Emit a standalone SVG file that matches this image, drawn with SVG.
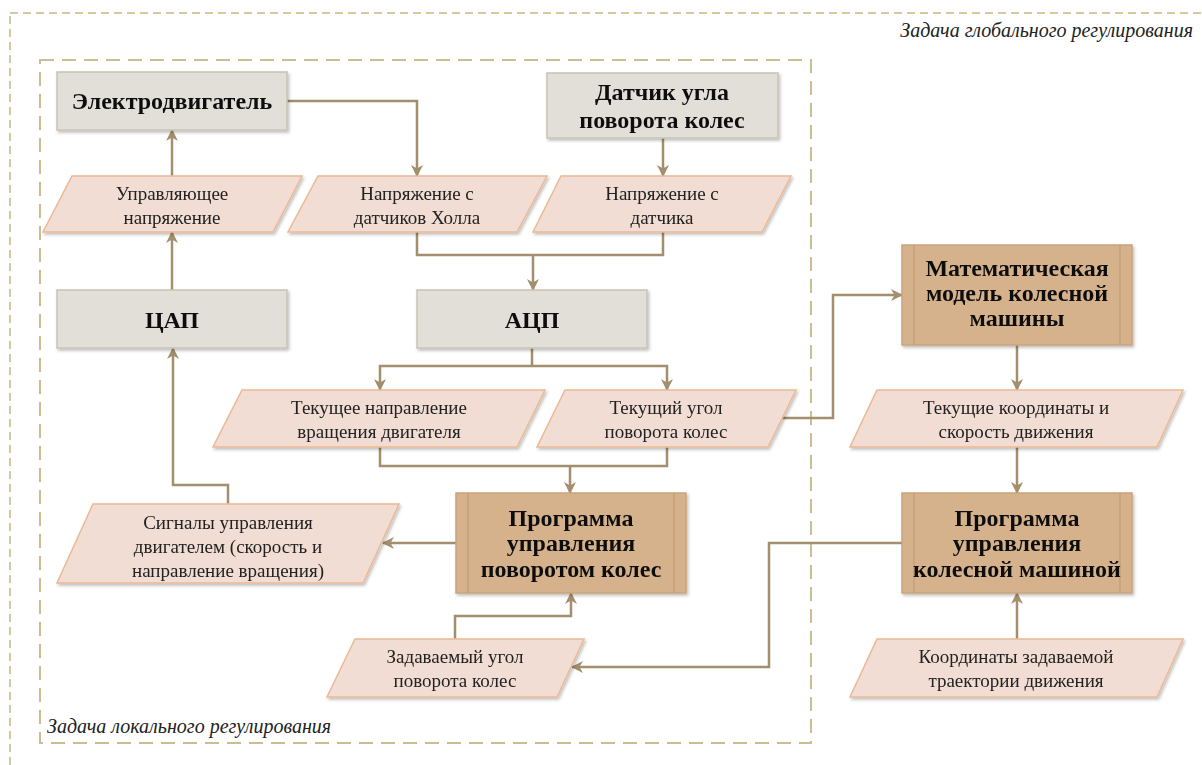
<svg xmlns="http://www.w3.org/2000/svg" width="1202" height="765" viewBox="0 0 1202 765">
<style>
.gray{fill:#e2dfd9;stroke:#c9c2b4;stroke-width:1.5}
.brown{fill:#d5b28c;stroke:#c9a47c;stroke-width:1.5}
.inl{stroke:#c49c72;stroke-width:1.2;fill:none}
.para{fill:#f2ddd4;stroke:#ebb994;stroke-width:1.5}
.bt{font-family:"Liberation Serif","Times New Roman","DejaVu Serif",serif;font-weight:bold;font-size:24px;fill:#111;text-anchor:middle}
.pt{font-family:"Liberation Serif","Times New Roman","DejaVu Serif",serif;font-size:19px;fill:#222;text-anchor:middle}
.it{font-family:"Liberation Serif","Times New Roman","DejaVu Serif",serif;font-style:italic;font-size:20px;fill:#222}
.c{fill:none;stroke:#a38f6d;stroke-width:2.5}
.ca{fill:none;stroke:#a38f6d;stroke-width:2.5;marker-end:url(#ah)}
</style>
<defs>
<marker id="ah" markerUnits="userSpaceOnUse" markerWidth="12" markerHeight="12" refX="11" refY="6" orient="auto" viewBox="0 0 12 12">
<path d="M0,0 L12,6 L0,12 L3.5,6 z" fill="#a38f6d"/>
</marker>
<filter id="sh" x="-5%" y="-5%" width="115%" height="120%">
<feDropShadow dx="1.5" dy="2" stdDeviation="1.5" flood-color="#000" flood-opacity="0.25"/>
</filter>
</defs>
<rect width="1202" height="765" fill="#fff"/>
<g id="frames">
<rect x="10" y="13" width="1205" height="770" fill="none" stroke="#d6c8a0" stroke-width="2" stroke-dasharray="8 5"/>
<rect x="40" y="60" width="771" height="683" fill="none" stroke="#cdbd92" stroke-width="2" stroke-dasharray="14 8"/>
<text class="it" x="1193" y="37" text-anchor="end">Задача глобального регулирования</text>
<text class="it" x="47" y="733">Задача локального регулирования</text>
</g>
<g id="connectors">
<path class="ca" d="M287,101 H417 V176"/>
<path class="ca" d="M663,138 V176"/>
<path class="c" d="M417,232 V255 H663 V232"/>
<path class="ca" d="M533,255 V290"/>
<path class="ca" d="M172,176 V130"/>
<path class="ca" d="M172,290 V232"/>
<path class="c" d="M532,348 V366"/>
<path class="ca" d="M532,366 H380 V390"/>
<path class="ca" d="M532,366 H667 V390"/>
<path class="c" d="M380,447 V466 H667 V447"/>
<path class="ca" d="M570,466 V493"/>
<path class="ca" d="M782,418 H833 V295 H902"/>
<path class="ca" d="M1017,345 V390"/>
<path class="ca" d="M1017,447 V493"/>
<path class="ca" d="M1017,639 V593"/>
<path class="ca" d="M902,543 H769 V667 H572"/>
<path class="ca" d="M455,639 V616 H571 V593"/>
<path class="ca" d="M456,543 H383"/>
<path class="ca" d="M228,504 V485 H173 V348"/>
</g>
<g id="n-motor" filter="url(#sh)">
<rect class="gray" x="57" y="72" width="230" height="58"/>
<text class="bt" x="172" y="109">Электродвигатель</text>
</g>
<g id="n-sensor" filter="url(#sh)">
<rect class="gray" x="547" y="73" width="231" height="65"/>
<text class="bt" x="662" y="100">Датчик угла</text>
<text class="bt" x="662" y="128">поворота колес</text>
</g>
<g id="n-dac" filter="url(#sh)">
<rect class="gray" x="57" y="290" width="230" height="58"/>
<text class="bt" x="172" y="328">ЦАП</text>
</g>
<g id="n-adc" filter="url(#sh)">
<rect class="gray" x="417" y="290" width="230" height="58"/>
<text class="bt" x="532" y="328">АЦП</text>
</g>
<g id="n-model" filter="url(#sh)">
<rect class="brown" x="902" y="245" width="230" height="100"/>
<line class="inl" x1="914" y1="245" x2="914" y2="345"/>
<line class="inl" x1="1120" y1="245" x2="1120" y2="345"/>
<text class="bt" x="1017" y="276">Математическая</text>
<text class="bt" x="1017" y="301">модель колесной</text>
<text class="bt" x="1017" y="326">машины</text>
</g>
<g id="n-steer" filter="url(#sh)">
<rect class="brown" x="456" y="493" width="230" height="100"/>
<line class="inl" x1="468" y1="493" x2="468" y2="593"/>
<line class="inl" x1="674" y1="493" x2="674" y2="593"/>
<text class="bt" x="571" y="526">Программа</text>
<text class="bt" x="571" y="551">управления</text>
<text class="bt" x="571" y="577">поворотом колес</text>
</g>
<g id="n-vehicle" filter="url(#sh)">
<rect class="brown" x="902" y="493" width="230" height="100"/>
<line class="inl" x1="914" y1="493" x2="914" y2="593"/>
<line class="inl" x1="1120" y1="493" x2="1120" y2="593"/>
<text class="bt" x="1017" y="526">Программа</text>
<text class="bt" x="1017" y="551">управления</text>
<text class="bt" x="1017" y="577">колесной машиной</text>
</g>
<g id="p-ctrlvolt" filter="url(#sh)">
<polygon class="para" points="72,176 302,176 273,232 43,232"/>
<text class="pt" x="172" y="200">Управляющее</text>
<text class="pt" x="172" y="224">напряжение</text>
</g>
<g id="p-hall" filter="url(#sh)">
<polygon class="para" points="318,176 547,176 517,232 288,232"/>
<text class="pt" x="417" y="200">Напряжение с</text>
<text class="pt" x="417" y="224">датчиков Холла</text>
</g>
<g id="p-sensvolt" filter="url(#sh)">
<polygon class="para" points="561,176 791,176 762,232 533,232"/>
<text class="pt" x="662" y="200">Напряжение с</text>
<text class="pt" x="662" y="224">датчика</text>
</g>
<g id="p-dir" filter="url(#sh)">
<polygon class="para" points="242,390 545,390 517,447 213,447"/>
<text class="pt" x="379" y="414">Текущее направление</text>
<text class="pt" x="379" y="438">вращения двигателя</text>
</g>
<g id="p-angle" filter="url(#sh)">
<polygon class="para" points="565,390 796,390 768,447 537,447"/>
<text class="pt" x="666" y="414">Текущий угол</text>
<text class="pt" x="666" y="438">поворота колес</text>
</g>
<g id="p-signals" filter="url(#sh)">
<polygon class="para" points="93,504 399,504 363,583 57,583"/>
<text class="pt" x="228" y="529">Сигналы управления</text>
<text class="pt" x="228" y="553">двигателем (скорость и</text>
<text class="pt" x="228" y="577">направление вращения)</text>
</g>
<g id="p-setangle" filter="url(#sh)">
<polygon class="para" points="355,639 584,639 557,697 327,697"/>
<text class="pt" x="455" y="663">Задаваемый угол</text>
<text class="pt" x="455" y="687">поворота колес</text>
</g>
<g id="p-coords" filter="url(#sh)">
<polygon class="para" points="877,390 1183,390 1157,447 850,447"/>
<text class="pt" x="1016" y="414">Текущие координаты и</text>
<text class="pt" x="1016" y="438">скорость движения</text>
</g>
<g id="p-traj" filter="url(#sh)">
<polygon class="para" points="877,639 1183,639 1157,697 850,697"/>
<text class="pt" x="1016" y="663">Координаты задаваемой</text>
<text class="pt" x="1016" y="687">траектории движения</text>
</g>
</svg>
